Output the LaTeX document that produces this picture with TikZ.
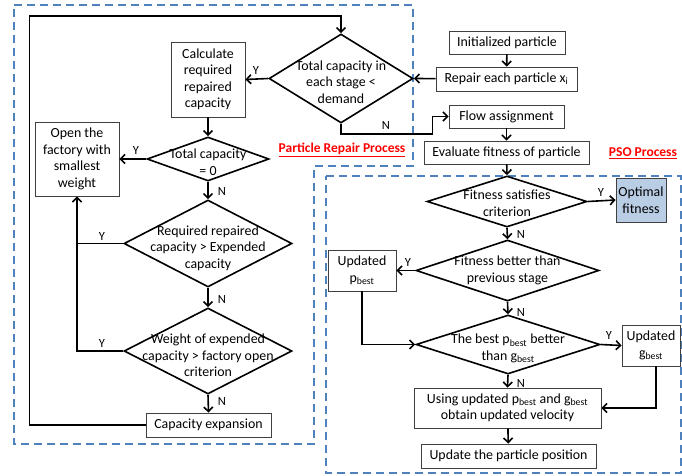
\documentclass[tikz,border=0pt]{standalone}
\usepackage{fontspec}
\setmainfont{Carlito}
\usetikzlibrary{shapes.geometric,arrows.meta,calc}
\definecolor{dashblue}{RGB}{79,129,189}
\definecolor{optfill}{RGB}{185,205,229}
\newcommand{\dtx}[2][0]{\smash{\makebox[0pt]{\raisebox{\dimexpr-3.4pt-#1pt\relax}{\begin{tabular}{@{}c@{}}#2\end{tabular}}}}}
\newcommand{\best}{\textsubscript{best}}
\begin{document}
\begin{tikzpicture}[x=1pt,y=-1pt,
  every node/.style={font=\fontsize{13.9}{16.5}\selectfont},
  box/.style={draw=black!75, line width=0.8pt, fill=white, inner sep=0pt, align=center},
  dia/.style={diamond, draw=black, line width=1.6pt, inner sep=0pt},
  flow/.style={line width=1.6pt, -{Straight Barb[length=4.5pt,width=9pt]}},
  conn/.style={line width=1.6pt},
  yn/.style={inner sep=0pt, font=\fontsize{12.5}{14}\selectfont},
  proc/.style={inner sep=0pt, text=red, font=\fontsize{13.5}{16}\selectfont\bfseries},
  region/.style={draw=dashblue, line width=1.6pt, dash pattern=on 8pt off 5pt}]
\useasboundingbox (0,0) rectangle (682,476);

% dashed regions
\draw[region] (14,5) -- (413,5) -- (413,166) -- (314,166) -- (314,444) -- (14,444) -- cycle;
\draw[region] (326,176) -- (681,176) -- (681,473) -- (326,473) -- cycle;

% PSO column
\node[box, minimum width=116pt, minimum height=23pt] (init) at (507,42.5) {Initialized particle};
\node[box, minimum width=141pt, minimum height=24pt] (repair) at (506.5,79) {Repair each particle x\textsubscript{i}};
\node[box, minimum width=115pt, minimum height=23pt] (flowas) at (506.5,116.5) {Flow assignment};
\node[box, minimum width=165pt, minimum height=23pt] (eval) at (506.5,152.5) {Evaluate fitness of particle};

% repair process
\node[dia, minimum width=144pt, minimum height=89pt] (d1) at (341,78.5) {\dtx[5]{Total capacity in\\each stage <\\demand}};
\node[box, minimum width=74pt, minimum height=75pt] (calc) at (208,79.5) {Calculate\\required\\repaired\\capacity};
\node[dia, minimum width=122pt, minimum height=44pt] (d2) at (208,159) {\dtx[5]{Total capacity\\= 0}};
\node[box, minimum width=84pt, minimum height=74pt] (open) at (77,159) {Open the\\factory with\\smallest\\weight};
\node[dia, minimum width=168pt, minimum height=87pt] (d3) at (208,243.5) {\dtx[5]{Required repaired\\capacity > Expended\\capacity}};
\node[dia, minimum width=168pt, minimum height=86pt] (d4) at (208,351) {\dtx[6]{Weight of expended\\capacity > factory open\\criterion}};
\node[box, minimum width=125pt, minimum height=24pt] (capexp) at (208.5,425) {Capacity expansion};

% PSO process
\node[dia, minimum width=160pt, minimum height=51pt] (d5) at (507,201.5) {\dtx[3.5]{Fitness satisfies\\criterion}};
\node[box, fill=optfill, minimum width=50pt, minimum height=44pt] (opt) at (641,200) {Optimal\\fitness};
\node[dia, minimum width=183pt, minimum height=61pt] (d6) at (507.5,270.5) {\dtx[0.5]{Fitness better than\\previous stage}};
\node[box, minimum width=68pt, minimum height=41pt] (pbest) at (362,270.5) {Updated\\p\best};
\node[dia, minimum width=184pt, minimum height=59pt] (d7) at (508,344.5) {\dtx[4.5]{The best p\best{} better\\than g\best}};
\node[box, minimum width=58pt, minimum height=41pt] (gbest) at (651,345.5) {Updated\\g\best};
\node[box, minimum width=187pt, minimum height=40pt] (vel) at (507.5,408) {Using updated p\best{} and g\best\\obtain updated velocity};
\node[box, minimum width=175pt, minimum height=24pt] (pos) at (508.5,456) {Update the particle position};

% region titles
\node[proc] (prp) at (342,150) {\underline{Particle Repair Process}};
\node[proc] (psop) at (643,153) {\underline{PSO Process}};

% connectors
\draw[flow] (init) -- (repair);
\draw[flow] (repair) -- (d1.east);
\draw[flow] (d1.west) -- (calc.east);
\draw[flow] (d1.south) -- ++(0,10) -| ([xshift=-16pt]flowas.west) -- (flowas.west);
\draw[flow] (flowas) -- (eval);
\draw[flow] (eval) -- (d5.north);
\draw[flow] (calc) -- (d2.north);
\draw[flow] (d2.west) -- (open.east);
\draw[flow] (d2.south) -- (d3.north);
\draw[flow] (d3.west) -| (open.south);
\coordinate (j4) at (open.south |- d4.west);
\draw[conn] (d4.west) -- (j4) -- ([yshift=1pt]open.south |- d3.west);
\draw[flow] (d3.south) -- (d4.north);
\draw[flow] (d4.south) -- (capexp.north);
\draw[flow] (capexp.west) -- ++(-116,0) |- ([yshift=17pt]d1.north) -- (d1.north);
\draw[flow] (d5.east) -- (opt.west);
\draw[flow] (d5.south) -- (d6.north);
\draw[flow] (d6.west) -- (pbest.east);
\draw[flow] (d6.south) -- (d7.north);
\draw[flow] (pbest.south) |- (d7.west);
\draw[flow] (d7.east) -- (gbest.west);
\draw[flow] (d7.south) -- (vel.north);
\draw[flow] ([xshift=5pt]gbest.south) |- (vel.east);
\draw[flow] (vel) -- (pos);

% Y / N labels
\node[yn] (y1) at (256,70) {Y};
\node[yn] (n1) at (386,125) {N};
\node[yn] (y2) at (136,150) {Y};
\node[yn] (n2) at (222,191) {N};
\node[yn] (y3) at (102,236) {Y};
\node[yn] (n3) at (222,299) {N};
\node[yn] (y4) at (102,343) {Y};
\node[yn] (n4) at (222,401) {N};
\node[yn] (y5) at (601,192) {Y};
\node[yn] (n5) at (521,234) {N};
\node[yn] (y6) at (408,262) {Y};
\node[yn] (n6) at (521,312) {N};
\node[yn] (y7) at (609,335) {Y};
\node[yn] (n7) at (521,383) {N};
\end{tikzpicture}
\end{document}
